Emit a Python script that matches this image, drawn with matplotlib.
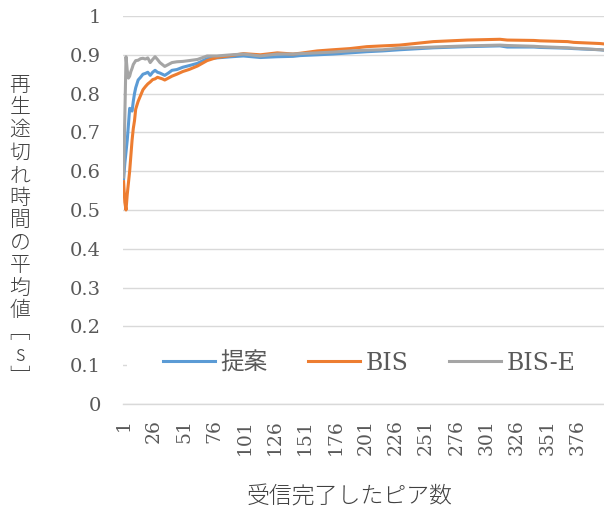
import matplotlib
matplotlib.use("Agg")
import matplotlib.pyplot as plt

# Number of peers that finished receiving (category index)
peers = [1, 2, 3, 4, 5, 6, 7, 8, 9, 10, 11, 13, 15, 17, 19, 21, 23, 25, 27, 29,
         31, 33, 35, 38, 41, 45, 50, 55, 62, 70, 78, 90, 100, 114, 128, 141, 147,
         161, 174, 188, 202, 215, 229, 257, 285, 312, 318, 340, 345, 368, 373, 395, 398]

# Average playback interruption time [s]
proposed = [0.58, 0.62, 0.65, 0.68, 0.72, 0.762, 0.76, 0.755, 0.78, 0.80, 0.815, 0.835,
            0.842, 0.85, 0.852, 0.855, 0.847, 0.855, 0.86, 0.855, 0.853, 0.85, 0.847,
            0.853, 0.86, 0.862, 0.868, 0.872, 0.878, 0.89, 0.892, 0.895, 0.897, 0.893,
            0.895, 0.896, 0.898, 0.90, 0.902, 0.905, 0.908, 0.91, 0.913, 0.918, 0.921,
            0.923, 0.92, 0.92, 0.919, 0.917, 0.916, 0.913, 0.912]
bis = [0.573, 0.52, 0.50, 0.54, 0.57, 0.60, 0.64, 0.68, 0.71, 0.73, 0.76, 0.78, 0.795,
       0.81, 0.818, 0.825, 0.83, 0.836, 0.838, 0.842, 0.84, 0.838, 0.835, 0.84, 0.845,
       0.85, 0.857, 0.862, 0.871, 0.885, 0.893, 0.898, 0.903, 0.90, 0.905, 0.902, 0.904,
       0.91, 0.913, 0.916, 0.921, 0.923, 0.925, 0.934, 0.938, 0.94, 0.938, 0.937, 0.936,
       0.934, 0.932, 0.929, 0.928]
bis_e = [0.585, 0.74, 0.895, 0.86, 0.84, 0.845, 0.857, 0.865, 0.875, 0.88, 0.885, 0.886,
         0.89, 0.891, 0.889, 0.892, 0.88, 0.888, 0.895, 0.888, 0.88, 0.875, 0.87, 0.875,
         0.88, 0.882, 0.883, 0.885, 0.888, 0.897, 0.897, 0.90, 0.902, 0.897, 0.902, 0.902,
         0.903, 0.905, 0.907, 0.91, 0.912, 0.913, 0.917, 0.92, 0.923, 0.925, 0.924, 0.922,
         0.921, 0.918, 0.917, 0.913, 0.912]

series_names = ["提案", "BIS", "BIS-E"]
series_colors = ["#5B9BD5", "#ED7D31", "#A5A5A5"]
xtick_values = list(range(1, 377, 25))
ytick_values = [0, 0.1, 0.2, 0.3, 0.4, 0.5, 0.6, 0.7, 0.8, 0.9, 1.0]
ytick_labels = ["0", "0.1", "0.2", "0.3", "0.4", "0.5", "0.6", "0.7", "0.8", "0.9", "1"]
xlabel = "受信完了したピア数"
ylabel = "再生途切れ時間の平均値﹇s﹈"

W, H = 604, 512
fig = plt.figure(figsize=(W / 100, H / 100), dpi=100)
left_px, right_px, top_px, bottom_px = 123, 604, 16, 404
ax = fig.add_axes([left_px / W, 1 - bottom_px / H,
                   (right_px - left_px) / W, (bottom_px - top_px) / H])

text_gray = "#595959"
grid_gray = "#D9D9D9"

for vals, name, col in zip([proposed, bis, bis_e], series_names, series_colors):
    ax.plot(peers, vals, color=col, lw=2.2, label=name, solid_joinstyle="round", zorder=2)

ax.set_xlim(0.5, 398)
ax.set_ylim(0, 1.0)
ax.set_axisbelow(True)
ax.yaxis.grid(True, color=grid_gray, lw=1.0)
for s in ["top", "right", "left"]:
    ax.spines[s].set_visible(False)
ax.spines["bottom"].set_color(grid_gray)
ax.spines["bottom"].set_linewidth(1.0)

ax.set_yticks(ytick_values)
ax.set_yticklabels(ytick_labels, family="DejaVu Serif", fontsize=14, color=text_gray)
ax.set_xticks(xtick_values)
ax.set_xticklabels([str(v) for v in xtick_values], rotation=90, family="DejaVu Serif",
                   fontsize=13.5, color=text_gray, va="top")
ax.tick_params(axis="y", length=0, pad=16)
ax.tick_params(axis="x", length=0, pad=11)

# legend background hides the gridline behind it
ax.axhspan(0.055, 0.145, xmin=(127 - left_px) / (right_px - left_px), xmax=1.0,
           color="white", zorder=1, lw=0)
leg = ax.legend(loc="center", bbox_to_anchor=(369 / W, 1 - 363 / H),
                bbox_transform=fig.transFigure, ncol=3, frameon=False,
                handlelength=2.2, handletextpad=0.25, columnspacing=1.7,
                prop={"family": ["DejaVu Serif", "Noto Sans CJK JP"], "size": 17})
for t in leg.get_texts():
    t.set_color(text_gray)

fig.text(350 / W, 1 - 497 / H, xlabel, ha="center", va="center", fontsize=16.5,
         family=["Noto Sans CJK JP", "DejaVu Sans"], color="#404040", fontweight="light")

# vertical axis title, one character per row
y0, step = 85, 22.5
for k, ch in enumerate(ylabel):
    fig.text(20 / W, 1 - (y0 + k * step) / H, ch, ha="center", va="center", fontsize=15,
             family=["Noto Sans CJK JP", "DejaVu Sans"], color="#404040",
             fontweight="light")

fig.savefig("out.png", dpi=100)
